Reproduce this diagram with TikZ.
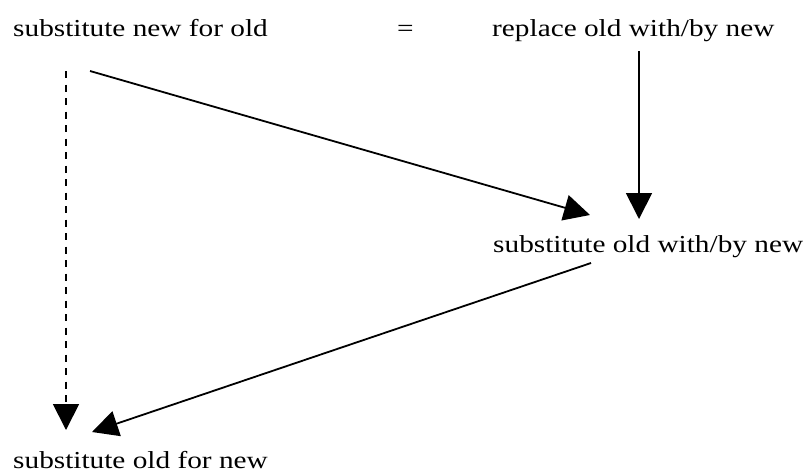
\documentclass[tikz,border=0pt]{standalone}
\usepackage{fontspec}
\setmainfont{Liberation Serif}
\usetikzlibrary{arrows.meta}

\begin{document}
\begin{tikzpicture}[x = 1pt, y = -1pt]
	\tikzstyle{WordStyle} = [inner sep = 0pt, anchor = base west, xscale = 1.2, font = \fontsize{24.4}{28}\selectfont]
	\tikzstyle{ArrowStyle} = [line width = 1.8pt, -{Triangle[length = 26pt, width = 26pt]}]
	\tikzstyle{DashedArrowStyle} = [ArrowStyle, dash pattern = on 7pt off 6.5pt]
	\useasboundingbox (0, 0) rectangle (805, 472);
	\node[WordStyle] (snfo) at (13, 36) {substitute new for old};
	\node[WordStyle] (eq) at (397, 36) {=};
	\node[WordStyle] (rown) at (492, 36) {replace old with/by new};
	\node[WordStyle] (sown) at (493, 252) {substitute old with/by new};
	\node[WordStyle] (sofn) at (13, 468) {substitute old for new};
	\draw[DashedArrowStyle] ([shift = {(53, 35)}]snfo.base west) -- ([shift = {(53, -38)}]sofn.base west);
	\draw[ArrowStyle] ([shift = {(77, 35)}]snfo.base west) -- ([shift = {(97, -37)}]sown.base west);
	\draw[ArrowStyle] ([shift = {(147, 15)}]rown.base west) -- ([shift = {(146, -33)}]sown.base west);
	\draw[ArrowStyle] ([shift = {(98, 11)}]sown.base west) -- ([shift = {(79, -36)}]sofn.base west);
\end{tikzpicture}
\end{document}
